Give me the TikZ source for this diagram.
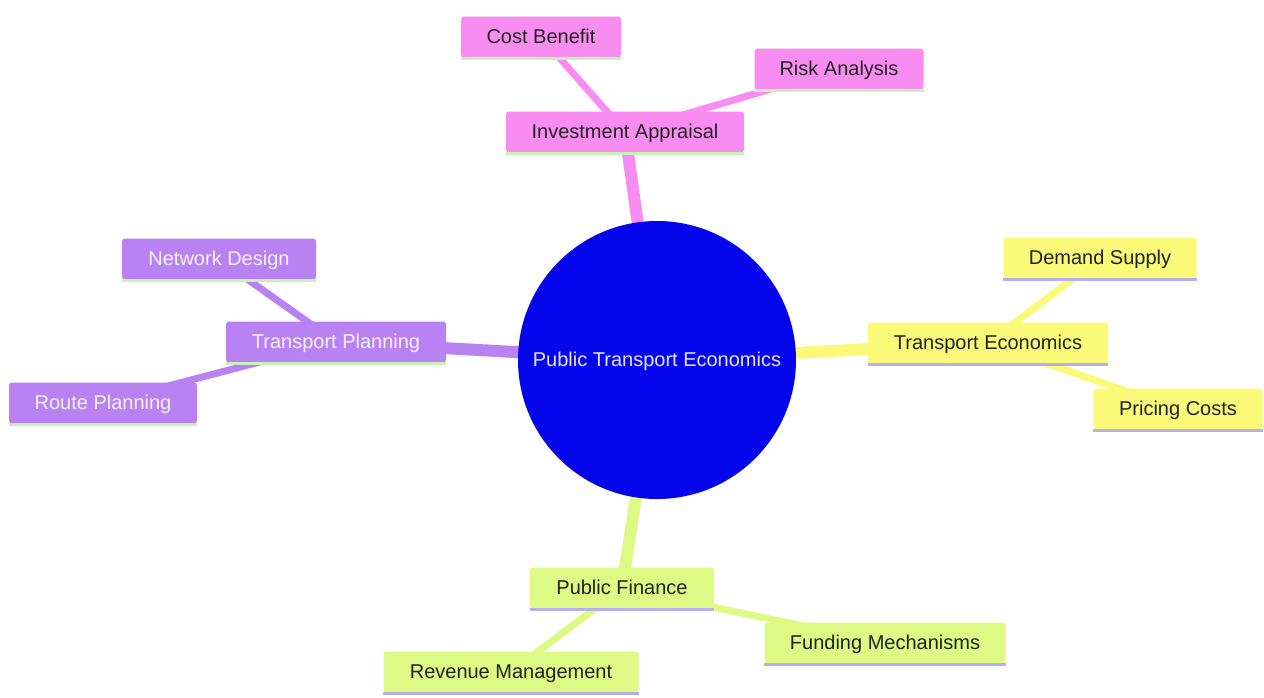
\documentclass[tikz,border=0pt]{standalone}
\usepackage{fontspec}
\setmainfont{Liberation Sans}
\usetikzlibrary{backgrounds}
\pgfdeclarelayer{paper}
\pgfsetlayers{paper,background,main}
\definecolor{rootblue}{HTML}{0505EC}
\definecolor{roottxt}{HTML}{E4E4FF}
\definecolor{pinkc}{HTML}{F98CF0}
\definecolor{purplec}{HTML}{B982F2}
\definecolor{yellowc}{HTML}{FAFA78}
\definecolor{greenc}{HTML}{DCFA84}
\definecolor{lgreen}{HTML}{C6F2B8}
\definecolor{lav}{HTML}{B4B0EE}
\definecolor{darktxt}{HTML}{222222}
\definecolor{lighttxt}{HTML}{F6F0FF}
\tikzset{
  box/.style={rectangle, rounded corners=3pt, minimum height=41pt, inner sep=0pt,
    text height=13.5pt, text depth=0pt, font=\fontsize{20}{24}\selectfont},
  pinkbox/.style={box, fill=pinkc, text=darktxt},
  purplebox/.style={box, fill=purplec, text=lighttxt},
  yellowbox/.style={box, fill=yellowc, text=darktxt},
  greenbox/.style={box, fill=greenc, text=darktxt},
  rootnode/.style={circle, fill=rootblue, text=roottxt, minimum size=278pt, inner sep=0pt,
    text height=13.5pt, text depth=0pt, font=\fontsize{20}{24}\selectfont},
  mainedge/.style={line width=12pt},
  subedge/.style={line width=7pt},
  uline/.style={line width=2.5pt, #1},
}
\begin{document}
\begin{tikzpicture}[x=1pt, y=-1pt]
\begin{pgfonlayer}{paper}
  \fill[white] (0,0) rectangle (1264,697);
\end{pgfonlayer}
\useasboundingbox (0,0) rectangle (1264,697);

\node[rootnode] (root) at (657,360) {Public Transport Economics};

% pink
\node[pinkbox, minimum width=160pt] (cb) at (541,37) {Cost Benefit};
\node[pinkbox, minimum width=169pt] (ra) at (839,69) {Risk Analysis};
\node[pinkbox, minimum width=238pt] (ia) at (625,132) {Investment Appraisal};
% purple
\node[purplebox, minimum width=194pt] (nd) at (219,259) {Network Design};
\node[purplebox, minimum width=220pt] (tp) at (336,342) {Transport Planning};
\node[purplebox, minimum width=188pt] (rp) at (103,403) {Route Planning};
% yellow
\node[yellowbox, minimum width=193pt] (ds) at (1100,258) {Demand Supply};
\node[yellowbox, minimum width=240pt] (te) at (988,343) {Transport Economics};
\node[yellowbox, minimum width=169pt] (pc) at (1178,409) {Pricing Costs};
% green
\node[greenbox, minimum width=184pt] (pf) at (622,588) {Public Finance};
\node[greenbox, minimum width=241pt] (fm) at (885,643) {Funding Mechanisms};
\node[greenbox, minimum width=255pt] (rm) at (511,672) {Revenue Management};

% bottom accent lines
\foreach \n in {cb,ra,ia,nd,tp,rp}
  \draw[uline=lgreen] ([yshift=-1pt]\n.south west) -- ([yshift=-1pt]\n.south east);
\foreach \n in {ds,te,pc,pf,fm,rm}
  \draw[uline=lav] ([yshift=-1pt]\n.south west) -- ([yshift=-1pt]\n.south east);

\begin{scope}[on background layer]
  \draw[mainedge, pinkc] (root.center) -- (ia.center);
  \draw[subedge, pinkc] (ia.center) -- (cb.center);
  \draw[subedge, pinkc] (ia.center) -- (ra.center);
  \draw[mainedge, purplec] (root.center) -- (tp.center);
  \draw[subedge, purplec] (tp.center) -- (nd.center);
  \draw[subedge, purplec] (tp.center) -- (rp.center);
  \draw[mainedge, yellowc] (root.center) -- (te.center);
  \draw[subedge, yellowc] (te.center) -- (ds.center);
  \draw[subedge, yellowc] (te.center) -- (pc.center);
  \draw[mainedge, greenc] (root.center) -- (pf.center);
  \draw[subedge, greenc] (pf.center) -- (fm.center);
  \draw[subedge, greenc] (pf.center) -- (rm.center);
\end{scope}
\end{tikzpicture}
\end{document}
